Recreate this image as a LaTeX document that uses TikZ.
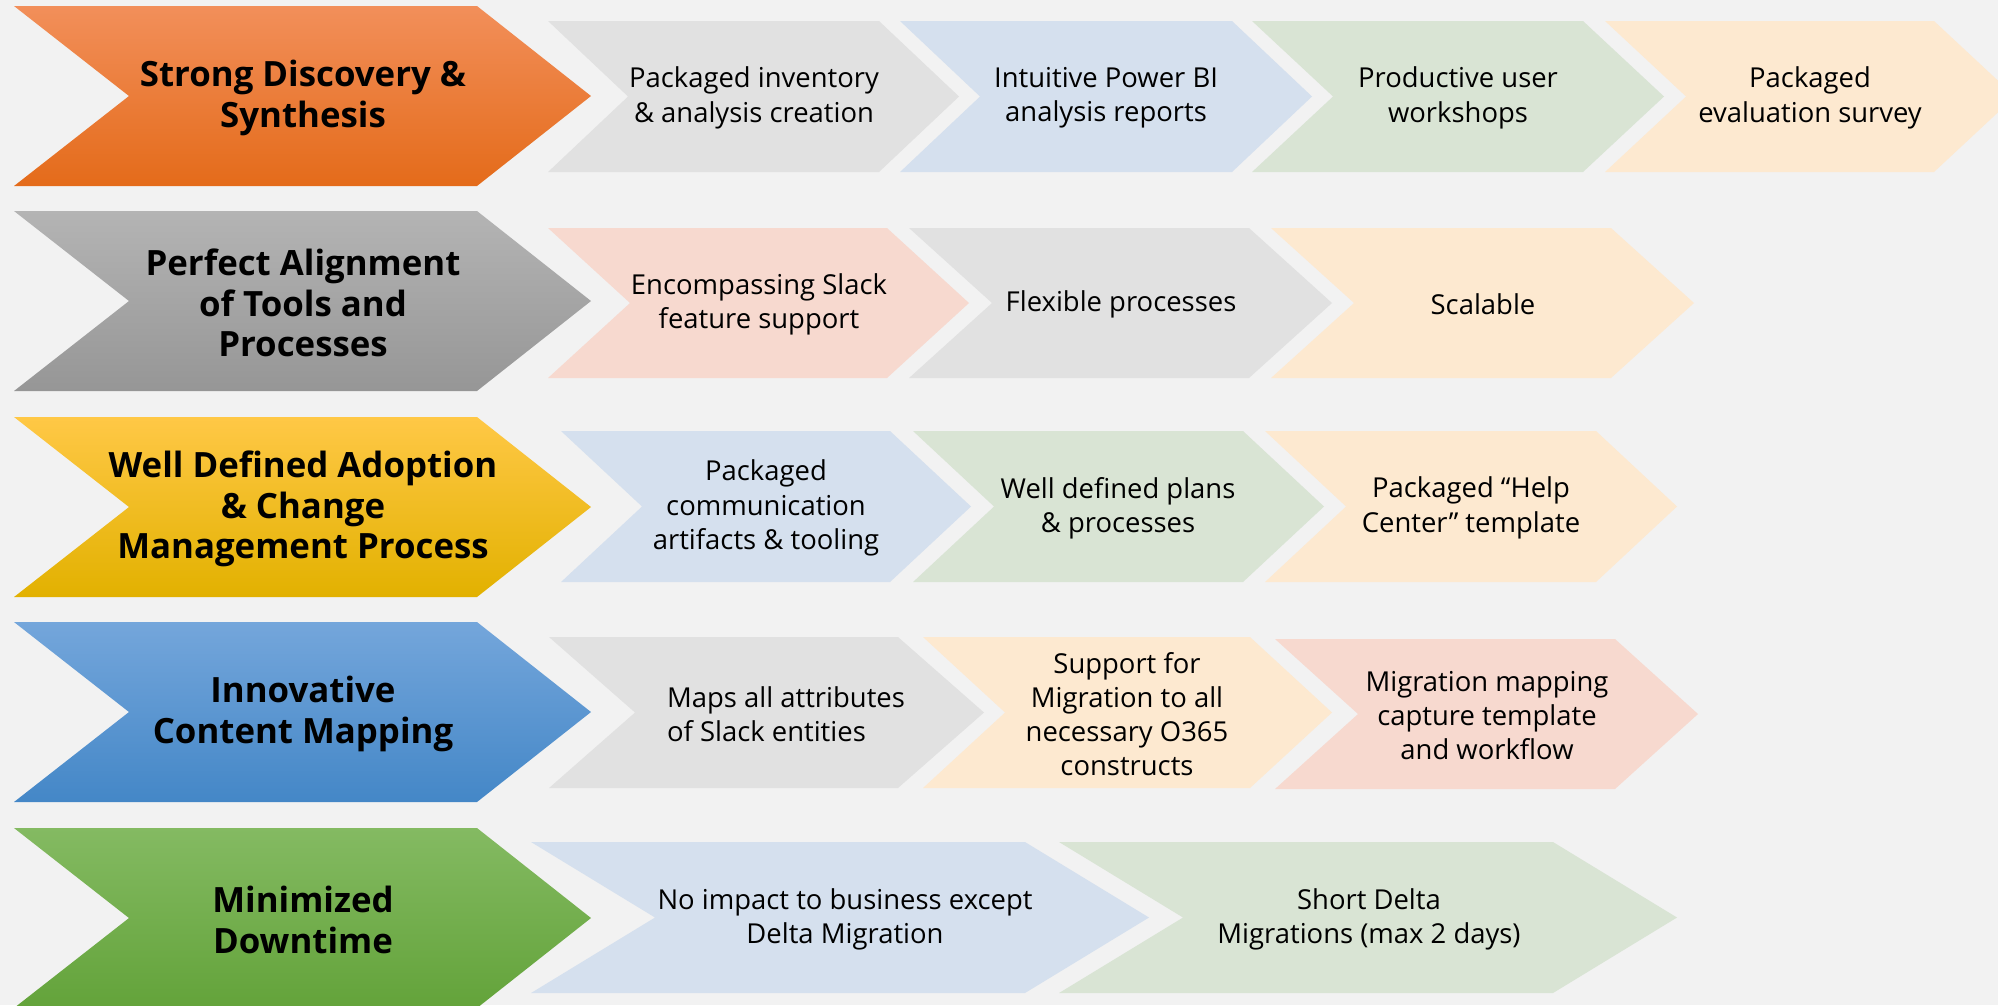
\documentclass[tikz,border=0pt]{standalone}
\usepackage{fontspec}
\setmainfont{Open Sans}
\definecolor{bgc}{HTML}{F2F2F2}
\definecolor{graytint}{HTML}{E1E1E1}
\definecolor{bluetint}{HTML}{D5E0EE}
\definecolor{greentint}{HTML}{D9E4D4}
\definecolor{peachtint}{HTML}{FDE9D0}
\definecolor{pinktint}{HTML}{F7D9CF}
\tikzset{
  orangechev/.style={top color={rgb,255:red,242;green,143;blue,90}, middle color={rgb,255:red,245;green,125;blue,42}, bottom color={rgb,255:red,228;green,107;blue,26}},
  graychev/.style={top color={rgb,255:red,180;green,180;blue,180}, bottom color={rgb,255:red,150;green,150;blue,150}},
  yellowchev/.style={top color={rgb,255:red,255;green,200;blue,70}, middle color={rgb,255:red,255;green,194;blue,0}, bottom color={rgb,255:red,226;green,177;blue,0}},
  bluechev/.style={top color={rgb,255:red,116;green,166;blue,219}, bottom color={rgb,255:red,68;green,135;blue,199}},
  greenchev/.style={top color={rgb,255:red,132;green,186;blue,98}, bottom color={rgb,255:red,99;green,163;blue,58}},
  headlabel/.style={align=center, yshift=-0.6pt, font=\bfseries\fontsize{9.9}{11.5}\selectfont},
  steplabel/.style={align=center, yshift=-0.4pt, font=\fontsize{7.8}{9.7}\selectfont}
}
\begin{document}
\begin{tikzpicture}[x=0.01cm, y=-0.01cm]
    \tikzstyle{every node}+=[inner sep=0pt, text=black]
    \fill [bgc] (0,0) rectangle (1998,1005);
    \useasboundingbox (0,0) rectangle (1998,1005);
    \clip (0,0) rectangle (1998,1005);
    % row 1
    \path [orangechev] (14,6) -- (477,6) -- (591,96) -- (477,186) -- (14,186) -- (129,96) -- cycle;
    \node [headlabel] (discovery) at (303,96) {Strong Discovery \&\\Synthesis};
    \fill [graytint] (548,21) -- (879,21) -- (959,96.5) -- (879,172) -- (548,172) -- (628,96.5) -- cycle;
    \node [steplabel] (inventory) at (754,96.5) {Packaged inventory\\\& analysis creation};
    \fill [bluetint] (900,21) -- (1232,21) -- (1312,96.5) -- (1232,172) -- (900,172) -- (980,96.5) -- cycle;
    \node [steplabel] (powerbi) at (1106,96.5) {Intuitive Power BI\\analysis reports};
    \fill [greentint] (1252,21) -- (1583,21) -- (1664,96.5) -- (1583,172) -- (1252,172) -- (1333,96.5) -- cycle;
    \node [steplabel] (workshops) at (1458,96.5) {Productive user\\workshops};
    \fill [peachtint] (1605,21) -- (1934,21) -- (2015,96.5) -- (1934,172) -- (1605,172) -- (1686,96.5) -- cycle;
    \node [steplabel] (survey) at (1810,96.5) {Packaged\\evaluation survey};
    % row 2
    \path [graychev] (14,211) -- (477,211) -- (591,301) -- (477,391) -- (14,391) -- (129,301) -- cycle;
    \node [headlabel] (alignment) at (303,301) {Perfect Alignment\\of Tools and\\Processes};
    \fill [pinktint] (548,228) -- (887,228) -- (969,303) -- (887,378) -- (548,378) -- (630,303) -- cycle;
    \node [steplabel] (slackfeat) at (759,303) {Encompassing Slack\\feature support};
    \fill [graytint] (909,228) -- (1249,228) -- (1332,303) -- (1249,378) -- (909,378) -- (992,303) -- cycle;
    \node [steplabel] (flexible) at (1121,303) {Flexible processes};
    \fill [peachtint] (1271,228) -- (1611,228) -- (1694,303) -- (1611,378) -- (1271,378) -- (1354,303) -- cycle;
    \node [steplabel] (scalable) at (1483,303) {Scalable};
    % row 3
    \path [yellowchev] (14,417) -- (477,417) -- (591,507) -- (477,597) -- (14,597) -- (129,507) -- cycle;
    \node [headlabel] (adoption) at (303,507) {Well Defined Adoption\\\& Change\\Management Process};
    \fill [bluetint] (561,431) -- (890,431) -- (971,506.5) -- (890,582) -- (561,582) -- (642,506.5) -- cycle;
    \node [steplabel] (comms) at (766,506.5) {Packaged\\communication\\artifacts \& tooling};
    \fill [greentint] (913,431) -- (1243,431) -- (1324,506.5) -- (1243,582) -- (913,582) -- (994,506.5) -- cycle;
    \node [steplabel] (plans) at (1118,506.5) {Well defined plans\\\& processes};
    \fill [peachtint] (1265,431) -- (1596,431) -- (1677,506.5) -- (1596,582) -- (1265,582) -- (1346,506.5) -- cycle;
    \node [steplabel] (helpcenter) at (1471,506.5) {Packaged “Help\\Center” template};
    % row 4
    \path [bluechev] (14,622) -- (477,622) -- (591,712) -- (477,802) -- (14,802) -- (129,712) -- cycle;
    \node [headlabel] (mapping) at (303,712) {Innovative\\Content Mapping};
    \fill [graytint] (549,637) -- (898,637) -- (984,712.5) -- (898,788) -- (549,788) -- (635,712.5) -- cycle;
    \node [steplabel, align=left] (attributes) at (786,712.5) {Maps all attributes\\of Slack entities};
    \fill [peachtint] (923,637) -- (1250,637) -- (1332,712.5) -- (1250,788) -- (923,788) -- (1005,712.5) -- cycle;
    \node [steplabel] (constructs) at (1127,712.5) {Support for\\Migration to all\\necessary O365\\constructs};
    \fill [pinktint] (1275,639) -- (1615,639) -- (1698,714) -- (1615,789) -- (1275,789) -- (1358,714) -- cycle;
    \node [steplabel] (workflow) at (1487,714) {Migration mapping\\capture template\\and workflow};
    % row 5
    \path [greenchev] (14,828) -- (477,828) -- (591,918) -- (477,1008) -- (14,1008) -- (129,918) -- cycle;
    \node [headlabel] (downtime) at (303,918) {Minimized\\Downtime};
    \fill [bluetint] (531,842) -- (1025,842) -- (1149,917.5) -- (1025,993) -- (531,993) -- (655,917.5) -- cycle;
    \node [steplabel] (noimpact) at (845,917.5) {No impact to business except\\Delta Migration};
    \fill [greentint] (1059,842) -- (1553,842) -- (1677,917.5) -- (1553,993) -- (1059,993) -- (1183,917.5) -- cycle;
    \node [steplabel] (delta) at (1369,917.5) {Short Delta\\Migrations (max 2 days)};
\end{tikzpicture}
\end{document}
